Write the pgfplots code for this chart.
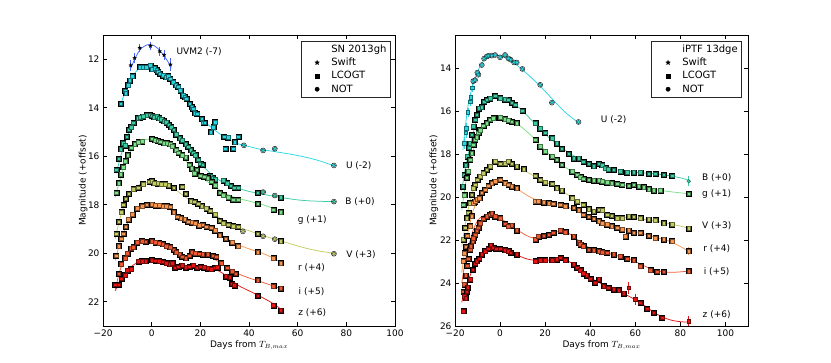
\documentclass[border=0pt]{standalone}
\usepackage{pgfplots}
\pgfplotsset{compat=1.18}
\usepackage{fontspec}
\setmainfont{DejaVu Sans}

\definecolor{cUV}{RGB}{70,100,255}
\definecolor{cU}{RGB}{40,215,225}
\definecolor{cB}{RGB}{60,205,165}
\definecolor{cg}{RGB}{125,225,135}
\definecolor{cV}{RGB}{195,205,100}
\definecolor{cr}{RGB}{250,150,80}
\definecolor{ci}{RGB}{240,90,50}
\definecolor{cz}{RGB}{230,20,20}

% filled five-pointed star (Swift)
\pgfdeclareplotmark{fstar}{%
  \pgfpathmoveto{\pgfpointpolar{90}{\pgfplotmarksize}}%
  \pgfpathlineto{\pgfpointpolar{126}{0.42\pgfplotmarksize}}%
  \pgfpathlineto{\pgfpointpolar{162}{\pgfplotmarksize}}%
  \pgfpathlineto{\pgfpointpolar{198}{0.42\pgfplotmarksize}}%
  \pgfpathlineto{\pgfpointpolar{234}{\pgfplotmarksize}}%
  \pgfpathlineto{\pgfpointpolar{270}{0.42\pgfplotmarksize}}%
  \pgfpathlineto{\pgfpointpolar{306}{\pgfplotmarksize}}%
  \pgfpathlineto{\pgfpointpolar{342}{0.42\pgfplotmarksize}}%
  \pgfpathlineto{\pgfpointpolar{18}{\pgfplotmarksize}}%
  \pgfpathlineto{\pgfpointpolar{54}{0.42\pgfplotmarksize}}%
  \pgfpathclose
  \pgfusepathqfillstroke}

% points: gray halo, then coloured mark
\newcommand{\pts}[3]{%
  \addplot[forget plot, only marks, mark=#3, mark size=2.5pt,
    mark options={draw=none, fill=black, fill opacity=0.1}] table {#1};
  \addplot[forget plot, only marks, mark=#3, mark size=1.8pt,
    mark options={draw=#2!50!black, fill=#2, line width=0.4pt}] table {#1};
}

% ---------------- SN 2013gh ----------------
\pgfplotstableread{
-12.7 13.83
-10.9 13.30
-10.6 13.40
-9.7 13.07
-9.0 12.87
-7.9 12.69
-4.9 12.32
-3.6 12.32
-2.2 12.32
-0.5 12.25
0.2 12.41
1.3 12.36
2.0 12.45
2.6 12.52
3.3 12.60
4.7 12.66
5.8 12.73
6.7 12.69
7.5 12.80
8.8 12.94
9.9 13.07
10.9 13.14
11.8 13.28
12.9 13.49
13.6 13.56
14.3 13.62
15.7 13.83
16.4 13.97
17.0 14.04
17.7 14.22
18.7 14.25
20.5 14.45
21.2 14.62
21.8 14.62
24.3 15.00
25.3 14.80
26.0 14.59
29.7 15.20
30.3 15.69
31.4 15.22
33.5 15.69
34.2 15.42
35.6 15.20
}\aU
\pgfplotstableread{
37.9 15.55
45.8 15.76
50.6 15.69
74.9 16.38
}\aUc
\pgfplotstableread{
-14.5 16.55
-13.5 16.10
-12.7 15.70
-11.8 15.45
-11.0 15.55
-10.3 15.20
-9.5 14.90
-8.5 14.80
-7.5 14.62
-5.8 14.42
-4.8 14.40
-3.5 14.35
-2.0 14.30
-0.8 14.28
0.2 14.32
1.0 14.38
2.0 14.36
3.0 14.42
4.0 14.48
5.0 14.55
6.0 14.60
7.0 14.70
8.0 14.80
9.0 14.90
10.0 15.10
11.5 15.25
12.5 15.35
14.0 15.50
15.0 15.60
16.0 15.75
17.0 15.85
18.0 15.95
19.0 16.15
20.0 16.30
21.0 16.35
24.0 16.80
25.0 16.88
26.0 16.95
29.5 17.00
31.0 17.10
32.5 17.22
34.0 17.30
35.5 17.30
43.5 17.50
53.0 17.70
}\aB
\pgfplotstableread{
45.8 17.48
50.6 17.62
74.9 17.87
}\aBc
\pgfplotstableread{
-14.5 17.50
-13.6 17.10
-12.8 16.75
-11.8 16.45
-10.8 16.20
-9.8 15.95
-8.5 15.65
-7.0 15.50
-5.5 15.42
-4.0 15.38
0.0 15.28
1.2 15.33
2.4 15.36
3.6 15.40
5.0 15.45
6.2 15.45
7.5 15.50
8.5 15.58
10.0 15.75
11.0 15.85
12.5 15.95
14.0 16.05
15.5 16.35
16.5 16.50
17.5 16.70
18.5 16.55
20.0 16.80
21.5 16.85
23.0 16.90
24.5 17.05
26.0 17.20
28.0 17.50
29.5 17.60
31.5 17.70
33.5 17.80
35.5 17.80
43.5 17.95
50.0 18.20
53.0 18.30
}\ag
\pgfplotstableread{
-14.5 19.20
-13.5 18.70
-12.5 18.30
-11.6 18.00
-10.6 17.75
-9.5 17.55
-7.5 17.35
-5.5 17.30
-3.5 17.15
-1.0 17.05
0.0 17.02
1.0 17.10
2.5 17.12
4.0 17.15
5.5 17.15
7.0 17.20
9.0 17.30
12.5 17.25
14.0 17.55
16.0 17.85
17.5 17.88
19.0 17.95
20.5 18.05
22.5 18.15
24.0 18.25
26.0 18.40
28.0 18.65
29.5 18.75
31.5 18.82
33.5 18.88
35.5 18.90
43.5 19.20
53.0 19.50
}\aV
\pgfplotstableread{
37.5 19.10
45.8 19.30
50.6 19.42
74.9 20.02
}\aVc
\pgfplotstableread{
-14.6 20.10
-13.6 19.70
-12.6 19.40
-11.6 19.20
-10.6 18.90
-9.6 18.60
-8.0 18.40
-6.0 18.15
-4.0 18.05
-2.0 18.00
0.0 17.98
1.5 18.02
3.0 18.02
4.5 18.05
6.0 18.05
7.5 18.08
9.0 18.30
10.5 18.50
12.0 18.55
13.5 18.60
15.0 18.70
16.5 18.72
18.0 18.75
19.5 18.85
21.0 18.82
22.5 18.90
24.5 18.95
26.0 19.05
28.0 19.25
30.5 19.40
33.0 19.55
35.5 19.70
43.5 19.95
50.0 20.20
53.0 20.40
}\ar
\pgfplotstableread{
-14.6 21.30
-13.6 20.85
-12.6 20.45
-11.0 20.20
-10.0 20.00
-8.5 19.80
-7.5 19.75
-6.0 19.55
-4.0 19.50
-2.5 19.52
0.0 19.50
1.5 19.55
3.0 19.58
4.5 19.62
6.0 19.70
7.5 19.75
9.0 19.85
10.0 19.95
11.5 20.05
12.5 20.15
14.0 20.20
15.5 20.10
16.5 19.95
18.0 20.00
19.5 20.02
21.0 20.05
23.0 20.05
25.0 20.10
26.5 20.15
28.5 20.40
31.0 20.60
33.0 20.75
34.5 20.85
43.5 21.10
50.0 21.35
53.0 21.45
}\ai
\pgfplotstableread{
-15.0 21.30
-13.6 21.30
-12.5 21.05
-11.0 20.90
-10.0 20.70
-8.5 20.65
-5.5 20.33
-4.0 20.32
-2.5 20.32
0.0 20.28
1.5 20.30
3.0 20.32
4.5 20.35
6.0 20.40
7.5 20.45
8.5 20.40
9.5 20.60
11.0 20.55
12.5 20.50
14.0 20.58
15.5 20.55
17.0 20.50
18.5 20.60
20.0 20.55
21.5 20.58
23.0 20.62
24.5 20.65
26.0 20.60
27.0 20.58
30.5 20.95
32.0 21.00
33.0 21.25
34.0 21.32
43.5 21.75
50.0 22.15
53.0 22.35
}\az

% ---------------- iPTF 13dge ----------------
\pgfplotstableread{
-11.9 14.60
-11.1 14.55
-10.1 14.20
-9.6 14.30
-8.1 13.85
-7.1 13.55
-5.9 13.45
-5.2 13.42
-3.7 13.41
-2.2 13.38
0.0 13.49
2.2 13.38
3.7 13.54
4.7 13.60
6.2 13.73
7.4 13.73
9.9 14.03
17.8 14.77
23.0 15.60
34.8 16.50
}\bUc
\pgfplotstableread{
-16.6 19.50
-15.9 18.95
-15.3 18.50
-14.5 18.10
-13.8 17.70
-13.3 17.50
-12.6 17.10
-11.9 16.70
-11.1 16.40
-10.4 16.17
-9.5 15.86
-8.1 15.80
-7.1 15.55
-5.9 15.47
-4.4 15.40
-2.2 15.28
0.0 15.39
2.2 15.44
3.7 15.47
5.2 15.60
6.7 15.70
9.9 15.97
15.6 16.55
17.8 16.80
20.0 17.00
23.0 17.25
25.2 17.50
27.4 17.75
30.4 17.98
32.6 18.20
34.8 18.20
37.0 18.35
39.3 18.45
41.5 18.55
43.7 18.45
45.2 18.50
46.7 18.65
48.1 18.70
50.4 18.72
53.3 18.80
56.3 18.85
59.3 18.85
62.2 18.85
65.9 18.90
68.9 18.90
72.6 18.95
76.3 19.00
}\bB
\pgfplotstableread{
-16.3 20.35
-15.9 19.90
-14.8 19.10
-14.2 18.80
-13.3 18.26
-12.6 17.95
-11.9 17.55
-11.1 17.33
-10.4 17.20
-9.6 17.00
-8.9 16.87
-7.4 16.68
-5.9 16.55
-4.4 16.40
-3.0 16.32
0.0 16.28
2.2 16.37
3.7 16.43
5.2 16.48
7.4 16.55
15.6 17.33
17.8 17.64
20.0 17.87
23.0 18.10
25.2 18.26
27.4 18.49
31.9 18.80
34.1 18.95
35.6 19.06
37.0 19.15
39.3 19.19
41.5 19.22
43.7 19.22
45.2 19.26
47.4 19.31
49.6 19.34
51.9 19.37
54.1 19.42
57.0 19.46
59.3 19.42
61.5 19.50
63.7 19.53
65.9 19.62
68.1 19.68
71.1 19.68
83.7 19.84
}\bg
\pgfplotstableread{
-16.3 21.97
-15.6 21.43
-14.8 20.97
-14.1 20.73
-13.3 20.27
-12.6 19.88
-11.9 19.57
-11.1 19.42
-10.1 19.19
-8.9 19.03
-7.4 18.88
-5.9 18.72
-4.4 18.57
-2.2 18.34
0.0 18.45
2.2 18.42
3.7 18.34
5.2 18.45
7.4 18.57
10.4 18.69
15.6 19.00
17.8 19.19
20.0 19.31
23.0 19.37
25.2 19.57
27.4 19.68
31.9 20.04
34.1 20.19
37.0 20.35
39.3 20.55
41.5 20.66
43.7 20.58
45.2 20.60
47.4 20.81
49.6 20.86
51.9 20.97
54.1 20.97
57.0 20.89
59.3 20.92
62.2 20.97
65.9 21.04
68.9 21.07
72.6 21.20
76.3 21.27
83.7 21.46
}\bV
\pgfplotstableread{
-16.3 22.98
-15.9 22.60
-15.3 22.30
-14.6 21.80
-13.3 21.35
-12.6 20.88
-11.9 20.27
-11.1 20.20
-10.4 20.10
-9.2 20.04
-8.1 19.80
-6.7 19.65
-5.2 19.46
-3.7 19.34
-2.2 19.26
0.0 19.19
2.2 19.34
3.7 19.42
5.2 19.50
7.4 19.57
15.6 20.19
17.0 20.19
19.3 20.24
21.5 20.27
23.7 20.30
26.7 20.35
28.9 20.42
32.6 20.50
34.8 20.60
37.0 20.81
39.3 20.92
41.5 21.00
43.7 21.12
45.2 21.20
47.4 21.27
49.6 21.35
51.9 21.43
54.1 21.50
55.6 21.82
57.0 21.54
59.3 21.66
62.2 21.66
65.9 21.79
68.9 21.90
72.6 21.97
76.3 22.05
83.7 22.51
}\br
\pgfplotstableread{
-16.3 24.40
-15.9 24.06
-15.3 23.64
-14.6 23.20
-14.1 22.87
-13.3 22.44
-13.0 22.28
-12.1 22.05
-11.9 21.90
-11.1 21.74
-10.4 21.54
-9.6 21.43
-8.9 21.20
-7.4 21.00
-5.9 20.89
-4.4 20.81
-3.7 20.76
-2.2 20.89
0.0 20.97
2.2 21.23
3.7 21.35
5.2 21.32
7.4 21.54
15.6 21.97
17.0 21.82
19.3 21.79
21.5 21.74
23.7 21.66
26.7 21.54
28.9 21.63
32.6 21.82
34.8 22.10
35.6 22.20
37.0 22.28
39.3 22.44
41.5 22.47
43.7 22.51
45.2 22.56
47.4 22.59
50.4 22.67
53.3 22.75
56.3 22.87
59.3 22.93
62.2 23.21
66.7 23.40
69.6 23.47
72.6 23.47
83.7 23.44
}\bi
\pgfplotstableread{
-16.3 25.30
-15.9 24.60
-15.3 24.70
-14.8 24.40
-14.3 24.20
-13.3 23.83
-12.1 23.37
-11.1 23.10
-10.4 22.98
-9.3 22.87
-8.1 22.67
-6.7 22.51
-5.2 22.40
-4.1 22.25
-3.0 22.36
-1.8 22.40
0.0 22.40
2.2 22.47
3.7 22.51
4.7 22.59
7.4 22.67
15.6 22.98
17.8 22.93
20.0 22.93
23.0 22.93
25.2 22.90
26.7 22.82
28.9 22.93
32.6 23.13
34.1 23.29
35.6 23.40
37.0 23.55
38.5 23.64
40.0 23.80
42.2 23.98
43.7 23.83
45.9 24.14
48.1 24.22
50.4 24.30
52.6 24.33
54.8 24.48
62.2 24.91
65.2 25.19
68.1 25.38
71.9 25.61
}\bz

\tikzset{bandlbl/.style={font=\fontsize{9}{10}\selectfont, anchor=center}}
\pgfplotsset{
  lc/.style={forget plot, smooth, line width=0.75pt},
  ebar/.style={forget plot, only marks, mark size=1.8pt,
    mark options={draw=#1!50!black, fill=#1, line width=0.4pt},
    error bars/y dir=both, error bars/y explicit,
    error bars/error bar style={#1, line width=0.6pt},
    error bars/error mark options={#1, mark size=2.6pt, line width=0.6pt}},
  panel/.style={
    scale only axis, width=292pt, height=291pt,
    y dir=reverse,
    axis line style={line width=0.8pt},
    major tick length=4pt,
    every tick/.style={black, line width=0.6pt},
    tick label style={font=\fontsize{9}{10}\selectfont},
    label style={font=\fontsize{9}{10}\selectfont},
    /pgf/number format/assume math mode=true,
    xmin=-20,
    xtick={-20,0,20,40,60,80,100},
    xticklabels={−20,0,20,40,60,80,100},
    xlabel={Days from $T_{B,max}$},
    ylabel={Magnitude (+offset)},
    xlabel style={at={(axis description cs:0.5,-0.066)}, anchor=center},
    legend style={draw=black!85, line width=0.8pt, font=\fontsize{10}{12}\selectfont,
      inner xsep=2pt, inner ysep=1.5pt, row sep=0.3pt},
    legend cell align=left,
    legend image code/.code={%
      \path[draw=none, fill=none] (-0.5cm,-0.1cm) rectangle (0.43cm,0.1cm);
      \draw[##1] plot coordinates {(0cm,0cm)};},
  },
}

\begin{document}
\begin{tikzpicture}
\useasboundingbox (0,0) rectangle (831pt,363pt);

% ================= left panel =================
\begin{axis}[panel, at={(103pt,37pt)}, anchor=south west,
  xmax=100, ymin=11, ymax=23, ytick={12,14,16,18,20,22},
  ylabel style={at={(axis description cs:-0.068,0.5)}, anchor=center},
  legend style={at={(0.986,0.98)}, anchor=north east}]
\addlegendimage{only marks, mark=square*, opacity=0}
\addlegendimage{only marks, mark=fstar, mark size=2.4pt, black, line width=0.3pt}
\addlegendimage{only marks, mark=square*, mark size=2pt, black, line width=0.3pt}
\addlegendimage{only marks, mark=*, mark size=2.2pt, black, line width=0.3pt}
\legend{SN 2013gh, Swift, LCOGT, NOT}

\addplot[lc, cUV] coordinates {(-8.5,12.36) (-7,12.0) (-5,11.64) (-3,11.46) (-1,11.39) (1,11.44) (3,11.6) (5,11.85) (7,12.15) (8,12.36)};
\addplot[lc, cU] coordinates {(-12.5,13.9) (-12,13.65) (-10,13.12) (-8,12.72) (-6,12.46) (-4,12.33) (-2,12.3) (0,12.33) (2,12.42) (4,12.57) (6,12.75) (8,12.95) (10,13.15) (12,13.4) (14,13.65) (16,13.9) (18,14.15) (20,14.4) (22,14.6) (25,14.85) (28,15.08) (32,15.33) (36,15.5) (40,15.6) (45,15.72) (50,15.8) (55,15.88) (60,15.97) (65,16.08) (70,16.22) (75,16.4)};
\addplot[lc, cB] coordinates {(-14.5,16.7) (-13,16.1) (-11,15.45) (-9,14.95) (-7,14.6) (-5,14.4) (-3,14.3) (-1,14.27) (1,14.32) (3,14.42) (5,14.55) (7,14.72) (9,14.92) (11,15.15) (13,15.4) (15,15.65) (17,15.9) (19,16.15) (21,16.4) (23,16.6) (25,16.8) (28,17.0) (31,17.15) (35,17.3) (40,17.45) (45,17.55) (50,17.65) (55,17.73) (60,17.8) (65,17.84) (70,17.86) (75,17.87)};
\addplot[lc, cg] coordinates {(-15,17.7) (-13,16.95) (-11,16.3) (-9,15.85) (-7,15.55) (-5,15.4) (-3,15.32) (-1,15.3) (1,15.33) (3,15.38) (5,15.45) (7,15.55) (9,15.7) (11,15.88) (13,16.08) (15,16.3) (17,16.52) (19,16.72) (21,16.9) (23,17.05) (25,17.2) (28,17.4) (31,17.57) (35,17.72) (40,17.85) (45,17.98) (50,18.15) (53,18.3)};
\addplot[lc, cV] coordinates {(-15,19.4) (-13,18.55) (-11,17.95) (-9,17.55) (-7,17.3) (-5,17.17) (-3,17.1) (-1,17.05) (1,17.06) (3,17.1) (5,17.15) (7,17.22) (9,17.33) (11,17.47) (13,17.62) (15,17.77) (17,17.9) (19,18.02) (21,18.12) (23,18.22) (25,18.35) (28,18.55) (31,18.72) (35,18.9) (40,19.07) (45,19.25) (50,19.4) (55,19.55) (60,19.7) (65,19.83) (70,19.93) (75,20.0)};
\addplot[lc, cr] coordinates {(-15,20.3) (-13,19.55) (-11,19.0) (-9,18.6) (-7,18.3) (-5,18.1) (-3,18.02) (-1,17.98) (1,17.99) (3,18.02) (5,18.08) (7,18.17) (9,18.3) (11,18.45) (13,18.57) (15,18.67) (17,18.75) (19,18.82) (21,18.88) (23,18.94) (25,19.03) (28,19.2) (31,19.4) (35,19.62) (40,19.82) (45,19.98) (50,20.2) (53,20.38)};
\addplot[lc, ci] coordinates {(-15,21.5) (-13,20.7) (-11,20.2) (-9,19.85) (-7,19.62) (-5,19.52) (-3,19.5) (-1,19.5) (1,19.53) (3,19.58) (5,19.66) (7,19.77) (9,19.9) (11,20.02) (13,20.1) (15,20.1) (17,20.05) (19,20.03) (21,20.05) (23,20.1) (25,20.2) (28,20.38) (31,20.58) (35,20.82) (40,21.02) (45,21.18) (50,21.35) (53,21.45)};
\addplot[lc, cz] coordinates {(-15,21.55) (-13,21.15) (-11,20.85) (-9,20.6) (-7,20.45) (-5,20.35) (-3,20.3) (-1,20.3) (1,20.31) (3,20.34) (5,20.38) (7,20.43) (9,20.5) (11,20.54) (13,20.56) (15,20.57) (17,20.58) (19,20.58) (21,20.59) (23,20.6) (25,20.63) (27,20.7) (30,20.88) (33,21.12) (36,21.35) (40,21.55) (45,21.8) (50,22.08) (53,22.3)};

\pts{\aU}{cU}{square*}
\pts{\aUc}{cU}{*}
\pts{\aB}{cB}{square*}
\pts{\aBc}{cB}{*}
\pts{\ag}{cg}{square*}
\pts{\aV}{cV}{square*}
\pts{\aVc}{cV}{*}
\pts{\ar}{cr}{square*}
\pts{\ai}{ci}{square*}
\pts{\az}{cz}{square*}

\addplot[ebar=cUV, mark=fstar, mark options={draw=black, fill=black, line width=0.2pt}, mark size=2pt]
  coordinates {(-8.6,12.25) +- (0,0.12) (-7.0,11.95) +- (0,0.08) (-4.9,11.53) +- (0,0.07)
    (-0.5,11.45) +- (0,0.07) (3.3,11.67) +- (0,0.07) (5.1,11.83) +- (0,0.1) (7.7,12.22) +- (0,0.15)};

\node[bandlbl] at (axis cs:19.5,11.7) {UVM2 (-7)};
\node[bandlbl] at (axis cs:85.1,16.38) {U (-2)};
\node[bandlbl] at (axis cs:85.6,17.87) {B (+0)};
\node[bandlbl] at (axis cs:66,18.65) {g (+1)};
\node[bandlbl] at (axis cs:86,20.07) {V (+3)};
\node[bandlbl] at (axis cs:65.7,20.58) {r (+4)};
\node[bandlbl] at (axis cs:65.7,21.57) {i (+5)};
\node[bandlbl] at (axis cs:66,22.44) {z (+6)};
\end{axis}

% ================= right panel =================
\begin{axis}[panel, at={(455pt,37pt)}, anchor=south west,
  width=293pt,
  xmax=110, ymin=12.45, ymax=26, ytick={14,16,18,20,22,24,26},
  ylabel style={at={(axis description cs:-0.072,0.5)}, anchor=center},
  legend style={at={(0.98,0.98)}, anchor=north east}]
\addlegendimage{only marks, mark=square*, opacity=0}
\addlegendimage{only marks, mark=fstar, mark size=2.4pt, black, line width=0.3pt}
\addlegendimage{only marks, mark=square*, mark size=2pt, black, line width=0.3pt}
\addlegendimage{only marks, mark=*, mark size=2.2pt, black, line width=0.3pt}
\legend{iPTF 13dge, Swift, LCOGT, NOT}

\addplot[lc, cU] coordinates {(-16.5,17.8) (-15.5,16.8) (-14,15.6) (-12,14.75) (-10,14.15) (-8,13.75) (-6,13.5) (-4,13.4) (-2,13.38) (0,13.42) (2,13.5) (4,13.6) (6,13.74) (8,13.9) (10,14.08) (14,14.45) (18,14.85) (22,15.3) (26,15.75) (30,16.15) (35,16.55)};
\addplot[lc, cB] coordinates {(-17,19.7) (-15.5,18.7) (-14,17.95) (-12,17.05) (-10,16.3) (-8,15.85) (-6,15.55) (-4,15.38) (-2,15.3) (0,15.32) (2,15.4) (4,15.5) (6,15.65) (8,15.8) (10,15.98) (14,16.42) (18,16.85) (22,17.25) (26,17.6) (30,17.9) (34,18.15) (38,18.35) (42,18.48) (46,18.6) (50,18.7) (55,18.78) (60,18.84) (65,18.88) (70,18.93) (75,19.0) (80,19.1) (84,19.22)};
\addplot[lc, cg] coordinates {(-17,20.6) (-15.5,19.5) (-14,18.7) (-12,17.85) (-10,17.2) (-8,16.8) (-6,16.55) (-4,16.4) (-2,16.32) (0,16.3) (2,16.35) (4,16.43) (6,16.52) (8,16.63) (10,16.78) (14,17.15) (18,17.62) (22,18.02) (26,18.38) (30,18.68) (34,18.92) (38,19.1) (42,19.2) (46,19.28) (50,19.36) (55,19.44) (60,19.51) (65,19.59) (70,19.67) (75,19.74) (80,19.8) (84,19.84)};
\addplot[lc, cV] coordinates {(-17,22.3) (-15.5,21.3) (-14,20.5) (-12,19.7) (-10,19.2) (-8,18.9) (-6,18.65) (-4,18.48) (-2,18.4) (0,18.4) (2,18.42) (4,18.45) (6,18.53) (8,18.62) (10,18.72) (14,18.95) (18,19.2) (22,19.4) (26,19.62) (30,19.88) (34,20.15) (38,20.42) (42,20.6) (46,20.73) (50,20.84) (55,20.93) (60,21.0) (65,21.05) (70,21.13) (75,21.23) (80,21.35) (84,21.46)};
\addplot[lc, cr] coordinates {(-17,23.5) (-15.5,22.4) (-14,21.5) (-12,20.65) (-10,20.15) (-8,19.8) (-6,19.52) (-4,19.33) (-2,19.24) (0,19.22) (2,19.27) (4,19.37) (6,19.5) (8,19.63) (10,19.78) (13,19.98) (16,20.12) (20,20.22) (24,20.28) (28,20.38) (32,20.55) (36,20.75) (40,20.95) (44,21.1) (48,21.25) (52,21.38) (56,21.5) (60,21.6) (65,21.75) (70,21.9) (75,22.05) (80,22.3) (84,22.55)};
\addplot[lc, ci] coordinates {(-17,24.0) (-15.5,23.0) (-14,22.3) (-12,21.55) (-10,21.1) (-8,20.9) (-6,20.82) (-4,20.8) (-2,20.85) (0,20.97) (2,21.12) (4,21.28) (6,21.43) (8,21.56) (10,21.68) (13,21.85) (16,21.9) (19,21.82) (22,21.72) (25,21.62) (28,21.6) (31,21.72) (34,21.95) (37,22.2) (40,22.37) (44,22.5) (48,22.62) (52,22.73) (56,22.85) (60,23.0) (64,23.2) (68,23.38) (72,23.47) (76,23.5) (80,23.48) (84,23.44)};
\addplot[lc, cz] coordinates {(-17,24.9) (-15.5,24.3) (-14,23.85) (-12,23.3) (-10,22.95) (-8,22.67) (-6,22.45) (-4,22.33) (-2,22.32) (0,22.38) (2,22.47) (4,22.55) (6,22.63) (8,22.72) (12,22.88) (16,22.95) (20,22.95) (24,22.9) (27,22.87) (30,22.97) (33,23.15) (36,23.42) (40,23.75) (44,23.98) (48,24.18) (52,24.35) (56,24.55) (60,24.78) (64,25.05) (68,25.35) (72,25.58) (76,25.73) (80,25.8) (84,25.82)};

% points with error bars
\addplot[ebar=cU, mark=square*]
  coordinates {(-16.0,17.48) +- (0,0.15) (-15.2,17.0) +- (0,0.12) (-14.9,16.8) +- (0,0.12)
    (-14.3,16.05) +- (0,0.1) (-13.3,15.55) +- (0,0.1) (-13.0,15.35) +- (0,0.1) (-12.3,14.9) +- (0,0.08)};
\addplot[ebar=cB, mark=*] coordinates {(83.7,19.26) +- (0,0.12)};
\addplot[ebar=cr, mark=square*] coordinates {(83.7,22.51) +- (0,0.05)};
\addplot[ebar=cz, mark=square*]
  coordinates {(57.0,24.22) +- (0,0.15) (60.0,24.76) +- (0,0.15) (83.7,25.77) +- (0,0.12)};

\pts{\bUc}{cU}{*}
\pts{\bB}{cB}{square*}
\pts{\bg}{cg}{square*}
\pts{\bV}{cV}{square*}
\pts{\br}{cr}{square*}
\pts{\bi}{ci}{square*}
\pts{\bz}{cz}{square*}

\node[bandlbl] at (axis cs:50.4,16.37) {U (-2)};
\node[bandlbl] at (axis cs:96.1,19.1) {B (+0)};
\node[bandlbl] at (axis cs:96.1,19.84) {g (+1)};
\node[bandlbl] at (axis cs:96.1,21.35) {V (+3)};
\node[bandlbl] at (axis cs:96.1,22.4) {r (+4)};
\node[bandlbl] at (axis cs:96.1,23.47) {i (+5)};
\node[bandlbl] at (axis cs:96.1,25.46) {z (+6)};
\end{axis}
\end{tikzpicture}
\end{document}
